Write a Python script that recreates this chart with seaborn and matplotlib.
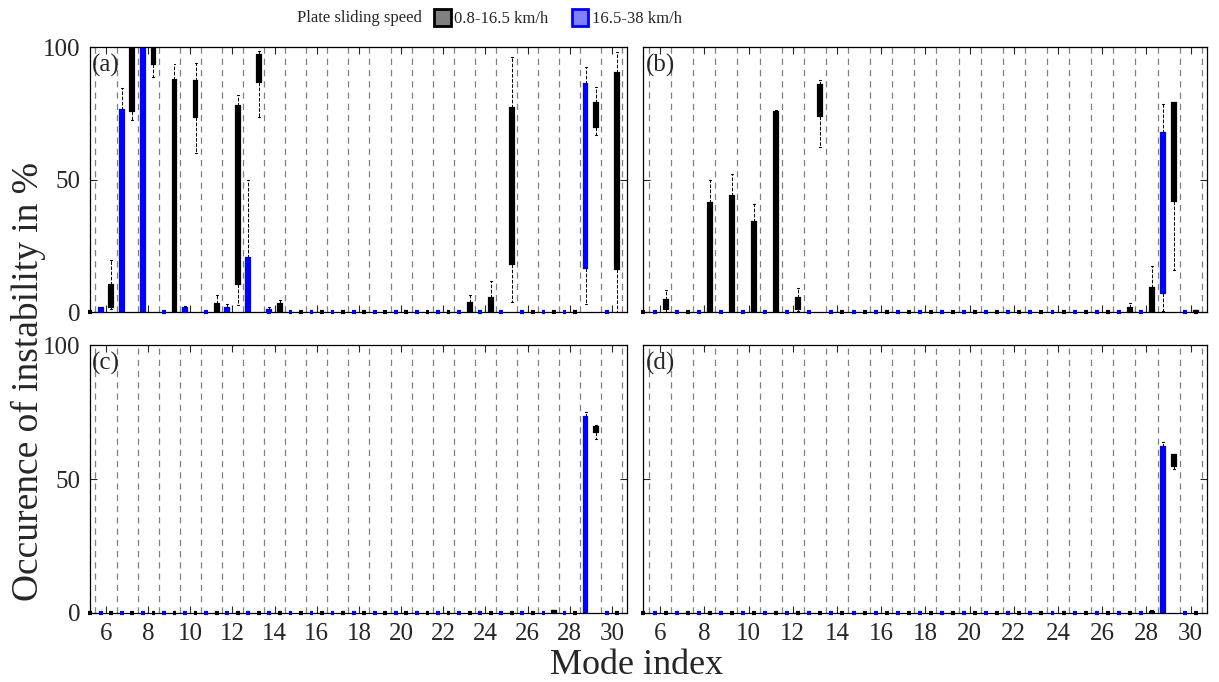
import numpy as np
import pandas as pd
import seaborn as sns
import matplotlib.pyplot as plt
from matplotlib.patches import Patch

# ---- data ---------------------------------------------------------------
modes = list(range(5, 31))
slow = "0.8-16.5 km/h"
fast = "16.5-38 km/h"
speed_colors = {slow: "#000000", fast: "#0000ff"}

# boxes that are not flat at zero: mode -> (whisker low, q1, median, q3, whisker high)
a_slow = {6: (1.3, 2, 5, 10.2, 19.6), 7: (72.5, 75.8, 95, 100, 100),
          8: (88.8, 93.5, 98, 100, 100), 9: (0, 0, 67.5, 87.5, 93.8),
          10: (59.9, 73.5, 80, 87.3, 93.9), 11: (0, 0, 1, 3.3, 6.4),
          12: (2.6, 10.8, 52.9, 77.7, 81.9), 13: (73.7, 87, 93, 97, 98.6),
          14: (0, 0, 1, 3, 4.5), 23: (0, 0, 1, 3.4, 6.5), 24: (0, 0, 2, 5.4, 11.8),
          25: (3.9, 18.4, 25.9, 76.9, 96.3), 29: (66.8, 69.9, 75, 79, 84.8),
          30: (0, 16.5, 73.7, 90.3, 98.2)}
a_fast = {6: (0, 0, 0.5, 1.5, 2), 7: (0, 0, 56.7, 76.2, 84.4), 8: (0, 0, 95, 100, 100),
          10: (0, 0, 0.5, 1.5, 2.5), 12: (0, 0, 1, 1.8, 3.3), 13: (0, 0, 12, 20.5, 49.8),
          14: (0, 0, 0.3, 1, 2), 29: (3, 16.9, 80.6, 86, 92.3)}

b_slow = {6: (0, 1.1, 2.5, 4.7, 8.4), 8: (0, 0, 2, 41.2, 50), 9: (0, 0, 2, 43.9, 52.1),
          10: (0, 0, 7.4, 34.1, 40.8), 11: (0, 0, 6.2, 75.4, 76.3),
          12: (0.5, 1.4, 3, 5.3, 9), 13: (62.2, 74.2, 80, 85.8, 87.4),
          27: (0, 0, 0.5, 1.8, 3.4), 28: (0, 0, 1, 9.3, 17.3),
          29: (16, 41.8, 61, 79, 79.4), 30: (0, 0, 0.2, 0.6, 0.8)}
b_fast = {29: (0.5, 7.4, 37, 67.6, 78.6)}

c_slow = {27: (0, 0, 0.3, 0.8, 1), 29: (65, 67.5, 68.5, 69.6, 70)}
c_fast = {29: (0, 0, 70, 73, 75)}

d_slow = {28: (0, 0, 0.2, 0.5, 0.6), 29: (53.8, 55, 57, 59, 59.5)}
d_fast = {29: (0, 0, 58, 62, 64)}

panels = [("(a)", a_slow, a_fast), ("(b)", b_slow, b_fast),
          ("(c)", c_slow, c_fast), ("(d)", d_slow, d_fast)]


def panel_frame(slow_boxes, fast_boxes):
    rows = []
    for m in modes:
        for spd, boxes in ((fast, fast_boxes), (slow, slow_boxes)):
            for v in boxes.get(m, (0, 0, 0, 0, 0)):
                rows.append({"mode": m, "speed": spd, "value": v})
    return pd.DataFrame(rows)


sns.set_style("ticks")
plt.rcParams["font.family"] = ["Liberation Serif", "DejaVu Serif"]
plt.rcParams["axes.linewidth"] = 0.9

fig = plt.figure(figsize=(12.19, 6.82), dpi=100)
left_x = (0.0738, 0.5146)
right_x = (0.5277, 0.990)
top_y = (0.542, 0.931)
bot_y = (0.1012, 0.494)
boxes_pos = [(left_x, top_y), (right_x, top_y), (left_x, bot_y), (right_x, bot_y)]
xlim = (5.24, 30.73)

for i, (label, sb, fb) in enumerate(panels):
    (x0, x1), (y0, y1) = boxes_pos[i]
    ax = fig.add_axes([x0, y0, x1 - x0, y1 - y0])
    df = panel_frame(sb, fb)

    for xv in np.arange(5.5, 31, 1):
        ax.axvline(xv, color="0.5", lw=0.9, dashes=(5, 4), zorder=0.3)

    sns.boxplot(data=df, x="mode", y="value", hue="speed", hue_order=[fast, slow],
                palette=speed_colors, saturation=1, native_scale=True,
                width=1.0, gap=0.64, whis=(0, 100), fliersize=0, linewidth=1.6,
                legend=False, ax=ax,
                whiskerprops=dict(color="k", linestyle="--", linewidth=0.7),
                capprops=dict(color="k", linewidth=0.8),
                medianprops=dict(linewidth=3, gid="median", clip_on=False, zorder=3))
    for p in ax.patches:
        p.set_edgecolor(p.get_facecolor())
    # medians take the colour of their box (blue sits left of the mode, black right)
    for ln in ax.lines:
        if ln.get_gid() == "median":
            xc = np.mean(ln.get_xdata())
            if xc < xlim[0] or xc > xlim[1]:
                ln.set_visible(False)
            ln.set_color(speed_colors[fast] if xc - np.floor(xc) > 0.5 else speed_colors[slow])

    ax.set_xlim(*xlim)
    ax.set_ylim(0, 100)
    ax.set_xticks(range(6, 31, 2))
    ax.set_yticks([0, 50, 100])
    ax.set_xlabel("")
    ax.set_ylabel("")
    ax.tick_params(direction="in", top=True, right=True, length=5, width=0.8,
                   labelsize=18, pad=7)
    if i < 2:
        ax.tick_params(labelbottom=False)
    if i % 2 == 1:
        ax.tick_params(labelleft=False)
    for s in ax.spines.values():
        s.set_visible(True)
        s.set_color("k")
    ax.text(0.004, 0.975, label, transform=ax.transAxes, ha="left", va="top",
            fontsize=18)

fig.text(0.023, 0.441, "Occurence of instability in %", rotation=90,
         ha="center", va="center", fontsize=27)
fig.text(0.522, 0.0, "Mode index", ha="center", va="bottom", fontsize=26)

fig.text(0.346, 0.973, "Plate sliding speed", ha="right", va="center", fontsize=12)
handles = [Patch(facecolor="#808080", edgecolor="k", linewidth=2, label=slow),
           Patch(facecolor="#8080ff", edgecolor="#0000ff", linewidth=2, label=fast)]
fig.legend(handles=handles, loc="center left", bbox_to_anchor=(0.356, 0.973),
           ncol=2, frameon=False, fontsize=12, handlelength=1.0, handleheight=1.2,
           handletextpad=0.2, columnspacing=1.4, borderaxespad=0, borderpad=0)

fig.savefig("out.png", dpi=100)
